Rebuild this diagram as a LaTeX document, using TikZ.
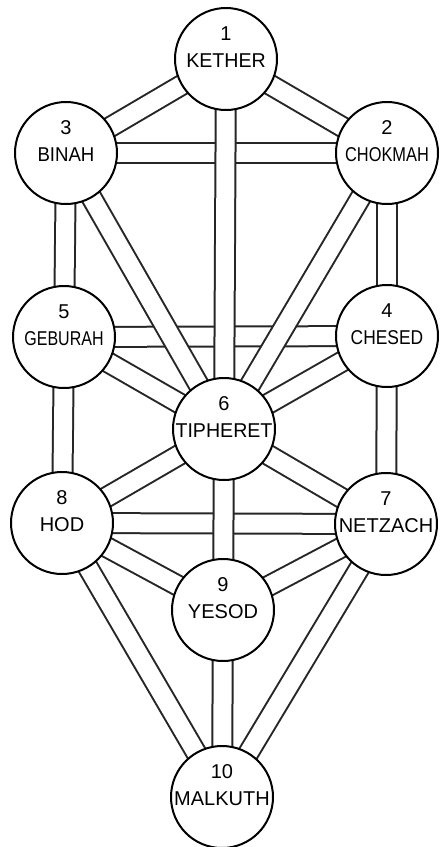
\documentclass[tikz,border=0pt]{standalone}
\usepackage{fontspec}
\setmainfont{Liberation Sans}
\usetikzlibrary{calc}
\tikzset{
  sefira/.style={circle, draw=black, line width=2pt, fill=white, minimum size=102pt, inner sep=0pt},
  lbl/.style={font=\fontsize{20}{24}\selectfont, inner sep=0pt, anchor=center},
  barout/.style={line width=22pt, draw=black!85},
  barin/.style={line width=18pt, draw=white},
}
\newcommand{\pathbar}[2]{\draw[barout] (#1.center) -- (#2.center); \draw[barin] (#1.center) -- (#2.center);}
\begin{document}
\begin{tikzpicture}[x=1pt,y=-1pt]
\useasboundingbox (0,0) rectangle (441,847);
\fill[white] (0,0) rectangle (441,847);
% centres
\coordinate (s1) at (226,59);
\coordinate (s2) at (387,153);
\coordinate (s3) at (66,153);
\coordinate (s4) at (387,336);
\coordinate (s5) at (64,337);
\coordinate (s6) at (224,429);
\coordinate (s7) at (386,524);
\coordinate (s8) at (62,523);
\coordinate (s9) at (223,610);
\coordinate (s10) at (222,797);
% horizontal paths
\pathbar{s3}{s2}
\pathbar{s5}{s4}
\pathbar{s8}{s7}
% diagonal paths
\pathbar{s1}{s2}
\pathbar{s1}{s3}
\pathbar{s2}{s6}
\pathbar{s3}{s6}
\pathbar{s5}{s6}
\pathbar{s4}{s6}
\pathbar{s6}{s8}
\pathbar{s6}{s7}
\pathbar{s8}{s9}
\pathbar{s7}{s9}
\pathbar{s8}{s10}
\pathbar{s7}{s10}
% vertical paths
\pathbar{s3}{s5}
\pathbar{s5}{s8}
\pathbar{s2}{s4}
\pathbar{s4}{s7}
\pathbar{s1}{s6}
\pathbar{s6}{s9}
\pathbar{s9}{s10}
% sefirot
\node[sefira] (n1) at (s1) {};
\node[sefira] (n2) at (s2) {};
\node[sefira] (n3) at (s3) {};
\node[sefira] (n4) at (s4) {};
\node[sefira] (n5) at (s5) {};
\node[sefira] (n6) at (s6) {};
\node[sefira] (n7) at (s7) {};
\node[sefira] (n8) at (s8) {};
\node[sefira] (n9) at (s9) {};
\node[sefira] (n10) at (s10) {};
% labels
\node[lbl] (t1a) at ($(s1)+(0,-25)$) {1};
\node[lbl] (t1b) at ($(s1)+(0,2)$) {\scalebox{0.98}[1]{KETHER}};
\node[lbl] (t2a) at ($(s2)+(0,-25)$) {2};
\node[lbl] (t2b) at ($(s2)+(0,2)$) {\scalebox{0.82}[1]{CHOKMAH}};
\node[lbl] (t3a) at ($(s3)+(0,-25)$) {3};
\node[lbl] (t3b) at ($(s3)+(0,2)$) {\scalebox{0.93}[1]{BINAH}};
\node[lbl] (t4a) at ($(s4)+(0,-25)$) {4};
\node[lbl] (t4b) at ($(s4)+(0,2)$) {\scalebox{0.87}[1]{CHESED}};
\node[lbl] (t5a) at ($(s5)+(0,-25)$) {5};
\node[lbl] (t5b) at ($(s5)+(0,2)$) {\scalebox{0.8}[1]{GEBURAH}};
\node[lbl] (t6a) at ($(s6)+(0,-25)$) {6};
\node[lbl] (t6b) at ($(s6)+(0,2)$) {\scalebox{0.98}[1]{TIPHERET}};
\node[lbl] (t7a) at ($(s7)+(0,-25)$) {7};
\node[lbl] (t7b) at ($(s7)+(0,2)$) {NETZACH};
\node[lbl] (t8a) at ($(s8)+(0,-25)$) {8};
\node[lbl] (t8b) at ($(s8)+(0,2)$) {HOD};
\node[lbl] (t9a) at ($(s9)+(0,-25)$) {9};
\node[lbl] (t9b) at ($(s9)+(0,2)$) {YESOD};
\node[lbl] (t10a) at ($(s10)+(0,-25)$) {10};
\node[lbl] (t10b) at ($(s10)+(0,2)$) {MALKUTH};
\end{tikzpicture}
\end{document}
